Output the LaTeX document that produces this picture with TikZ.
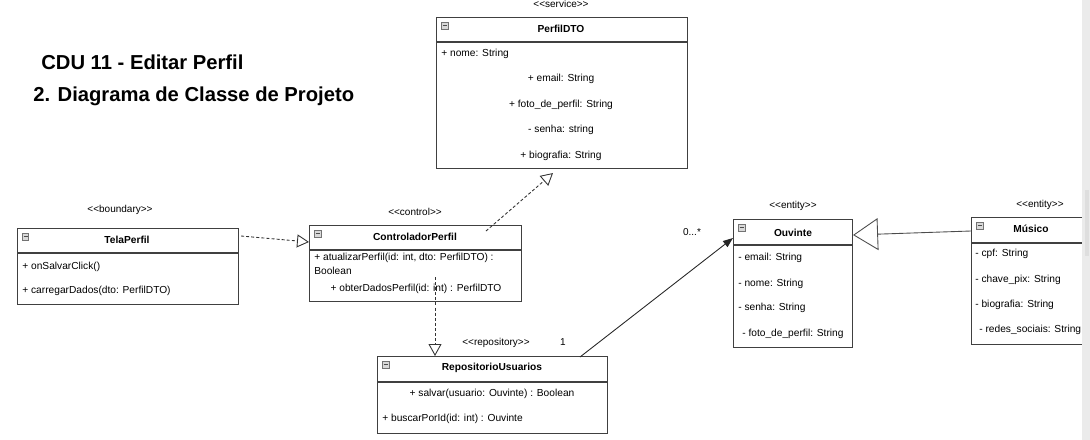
\documentclass[tikz,border=0pt]{standalone}
\usepackage{fontspec}
\setmainfont{Liberation Sans}
\usetikzlibrary{arrows.meta,calc,positioning}
\newcommand{\stereo}[1]{<\kern0pt<#1>\kern0pt>}
\tikzset{
    classBox/.style 2 args={
        ,   draw=black!75
        ,   fill=white
        ,   anchor=north west
        ,   inner sep=0pt
        ,   line width=0.6pt
        ,   minimum width=#1*0.02cm
        ,   minimum height=#2*0.02cm
    },
    clsIcon/.style={
        ,   draw=black!55
        ,   fill=black!15
        ,   anchor=north west
        ,   inner sep=0pt
        ,   minimum size=0.13cm
        ,   line width=0.4pt
        ,   path picture={\draw[black!70, line width=0.6pt] ($(path picture bounding box.west)+(0.025cm,0)$) -- ($(path picture bounding box.east)+(-0.025cm,0)$);}
    },
    sepLine/.style={draw=black!75, line width=0.6pt},
    clsName/.style={font=\fontsize{5.8pt}{6.8pt}\selectfont\bfseries, inner sep=0pt},
    attr/.style={font=\fontsize{5.8pt}{6.8pt}\selectfont, inner sep=0pt},
    attrL/.style={attr, anchor=west},
    stereoTxt/.style={font=\fontsize{5.7pt}{6.5pt}\selectfont, inner sep=0pt},
    titleTxt/.style={font=\fontsize{11.5pt}{13pt}\selectfont\bfseries, inner sep=0pt, anchor=west},
    dep/.style={dash pattern=on 1.7pt off 1.2pt, line width=0.5pt, black!80, -{Triangle[open, length=0.24cm, width=0.26cm]}},
    assoc/.style={line width=0.5pt, black!85, -{Triangle[length=0.2cm, width=0.15cm]}},
    generalize/.style={line width=0.5pt, black!70, -{Triangle[open, length=0.5cm, width=0.64cm]}}
}
\begin{document}
\begin{tikzpicture}[x=0.02cm, y=-0.02cm]
\useasboundingbox (0,0) rectangle (1090,440);

\node[titleTxt] (t1) at (41,62) {CDU 11 - Editar Perfil};
\node[titleTxt] (t2) at (33,96) {2. Diagrama de Classe de Projeto};

% PerfilDTO
\node[classBox={251}{151}] (dto) at (436,17) {};
\draw[sepLine] ($(dto.north west)+(0,25)$) -- ($(dto.north east)+(0,25)$);
\node[clsIcon] (dtoI) at ($(dto.north west)+(5,5)$) {};
\node[stereoTxt] (dtoS) at (561,4) {\stereo{service}};
\node[clsName] (dtoN) at (561,29) {PerfilDTO};
\node[attrL] (dtoA1) at (441,54) {+ nome: String};
\node[attr] (dtoA2) at (561,79) {+ email: String};
\node[attr] (dtoA3) at (561,105) {+ foto\_de\_perfil: String};
\node[attr] (dtoA4) at (561,130) {- senha: string};
\node[attr] (dtoA5) at (561,156) {+ biografia: String};

% TelaPerfil
\node[classBox={221}{76}] (tela) at (17,228) {};
\draw[sepLine] ($(tela.north west)+(0,25)$) -- ($(tela.north east)+(0,25)$);
\node[clsIcon] (telaI) at ($(tela.north west)+(5,5)$) {};
\node[stereoTxt] (telaS) at (120,210) {\stereo{boundary}};
\node[clsName] (telaN) at (127,240) {TelaPerfil};
\node[attrL] (telaA1) at (22,267) {+ onSalvarClick()};
\node[attrL] (telaA2) at (22,291) {+ carregarDados(dto: PerfilDTO)};

% ControladorPerfil
\node[classBox={212}{76}] (ctrl) at (309,225) {};
\draw[sepLine] ($(ctrl.north west)+(0,25)$) -- ($(ctrl.north east)+(0,25)$);
\node[clsIcon] (ctrlI) at ($(ctrl.north west)+(5,5)$) {};
\node[stereoTxt] (ctrlS) at (415,212) {\stereo{control}};
\node[clsName] (ctrlN) at (415,237) {ControladorPerfil};
\node[attrL] (ctrlA1) at (314,258) {+ atualizarPerfil(id: int, dto: PerfilDTO) :};
\node[attrL] (ctrlA2) at (314,271) {Boolean};
\node[attr] (ctrlA3) at (416,289) {+ obterDadosPerfil(id: int) : PerfilDTO};

% RepositorioUsuarios
\node[classBox={230}{77}] (repo) at (377,356) {};
\draw[sepLine] ($(repo.north west)+(0,26)$) -- ($(repo.north east)+(0,26)$);
\node[clsIcon] (repoI) at ($(repo.north west)+(5,5)$) {};
\node[stereoTxt] (repoS) at (496,343) {\stereo{repository}};
\node[stereoTxt] (repoM) at (563,342) {1};
\node[clsName] (repoN) at (492,368) {RepositorioUsuarios};
\node[attr] (repoA1) at (492,394) {+ salvar(usuario: Ouvinte) : Boolean};
\node[attrL] (repoA2) at (382,419) {+ buscarPorId(id: int) : Ouvinte};

% Ouvinte
\node[classBox={119}{128}] (ouv) at (733,219) {};
\draw[sepLine] ($(ouv.north west)+(0,26)$) -- ($(ouv.north east)+(0,26)$);
\node[clsIcon] (ouvI) at ($(ouv.north west)+(5,5)$) {};
\node[stereoTxt] (ouvS) at (793,206) {\stereo{entity}};
\node[stereoTxt] (ouvM) at (692,232) {0...*};
\node[clsName] (ouvN) at (793,233) {Ouvinte};
\node[attrL] (ouvA1) at (738,258) {- email: String};
\node[attrL] (ouvA2) at (738,284) {- nome: String};
\node[attrL] (ouvA3) at (738,308) {- senha: String};
\node[attrL] (ouvA4) at (742,334) {- foto\_de\_perfil: String};

% Musico (cut by the scrollbar)
\node[classBox={113}{127}] (mus) at (971,217) {};
\draw[sepLine] ($(mus.north west)+(0,26)$) -- ($(mus.north east)+(0,26)$);
\node[clsIcon] (musI) at ($(mus.north west)+(5,5)$) {};
\node[stereoTxt] (musS) at (1040,205) {\stereo{entity}};
\node[clsName] (musN) at (1031,229) {Músico};
\node[attrL] (musA1) at (975,254) {- cpf: String};
\node[attrL] (musA2) at (975,280) {- chave\_pix: String};
\node[attrL] (musA3) at (975,305) {- biografia: String};
\node[attrL] (musA4) at (979,330) {- redes\_sociais: String};

% connectors
\draw[dep] ($(tela.north east)+(2,8)$) -- ($(ctrl.north west)+(0,17)$);
\draw[dep] ($(ctrl.north west)+(177,6)$) -- ($(dto.south west)+(117,4)$);
\draw[dep] ($(ctrl.north west)+(126,52)$) -- ($(repo.north west)+(58,0)$);
\draw[assoc] ($(repo.north west)+(203,1)$) -- ($(ouv.north west)+(0,19)$);
\draw[generalize] ($(mus.north west)+(0,14)$) -- ($(ouv.north east)+(0,16)$);

% scrollbar
\fill[black!8] (1082,0) rectangle (1090,440);
\fill[black!13] (1085,190) rectangle (1089,256);
\end{tikzpicture}
\end{document}
